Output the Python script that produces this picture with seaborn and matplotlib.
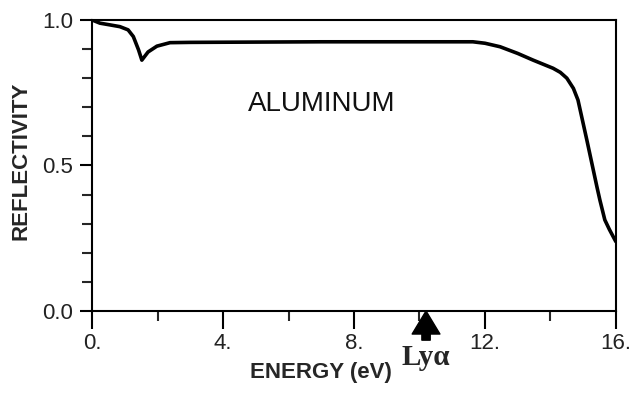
import matplotlib
matplotlib.use("Agg")
import matplotlib.pyplot as plt
import seaborn as sns
import pandas as pd

# Data
energy = [0.0, 0.24, 0.55, 0.85, 1.1, 1.26, 1.42, 1.52, 1.71, 1.98, 2.38, 3.0, 5.0, 7.0,
          9.0, 10.0, 11.0, 11.63, 12.0, 12.46, 13.0, 13.47, 14.08, 14.3, 14.5, 14.7, 14.84,
          15.11, 15.42, 15.51, 15.66, 15.8, 15.97, 16.0]
reflectivity = [1.0, 0.989, 0.983, 0.977, 0.966, 0.943, 0.897, 0.862, 0.89, 0.91, 0.922,
                0.923, 0.924, 0.925, 0.925, 0.925, 0.925, 0.925, 0.92, 0.908, 0.885, 0.862,
                0.834, 0.82, 0.80, 0.765, 0.725, 0.588, 0.426, 0.381, 0.313, 0.28, 0.244,
                0.238]
x_major = [0, 4, 8, 12, 16]
x_major_labels = ["0.", "4.", "8.", "12.", "16."]
x_minor = [2, 6, 10, 14]
y_major = [0.0, 0.5, 1.0]
y_major_labels = ["0.0", "0.5", "1.0"]
y_minor = [0.1, 0.2, 0.3, 0.4, 0.6, 0.7, 0.8, 0.9]
lya_energy = 10.2

sns.set_theme(style="ticks")
plt.rcParams['font.family'] = ['Liberation Sans', 'DejaVu Sans']

df = pd.DataFrame({"energy": energy, "reflectivity": reflectivity})

fig = plt.figure(figsize=(6.35, 3.93), dpi=100)
ax = fig.add_axes([0.145, 0.2087, 0.825, 0.7405])
sns.lineplot(data=df, x="energy", y="reflectivity", ax=ax, color="black", linewidth=2.6)

ax.set_xlim(0, 16)
ax.set_ylim(0, 1)
for s in ax.spines.values():
    s.set_linewidth(1.5)
    s.set_color("black")
    s.set_visible(True)

ax.set_xticks(x_major)
ax.set_xticklabels(x_major_labels)
ax.set_xticks(x_minor, minor=True)
ax.set_yticks(y_major)
ax.set_yticklabels(y_major_labels)
ax.set_yticks(y_minor, minor=True)
ax.tick_params(axis="x", which="major", direction="out", length=13, width=1.5,
               labelsize=16, pad=3, colors="black", labelcolor="#222222")
ax.tick_params(axis="x", which="minor", direction="out", length=7.2, width=1.5)
ax.tick_params(axis="y", which="major", direction="out", length=8.5, width=1.5,
               labelsize=16, pad=5, colors="black", labelcolor="#222222")
ax.tick_params(axis="y", which="minor", direction="out", length=7.2, width=1.5)

ax.set_xlabel("ENERGY (eV)", fontsize=16, fontweight="bold")
ax.set_ylabel("REFLECTIVITY", fontsize=16, fontweight="bold")
ax.xaxis.set_label_coords(0.436, -0.175)
ax.yaxis.set_label_coords(-0.116, 0.515)

ax.text(7.0, 0.71, "ALUMINUM", fontsize=20, ha="center", va="center", color="#111111")

ax.annotate("", xy=(lya_energy, 0.0), xytext=(0, -21), textcoords="offset points",
            xycoords="data", annotation_clip=False,
            arrowprops=dict(arrowstyle="simple,head_length=0.83,head_width=1.0,tail_width=0.3",
                            mutation_scale=20, color="black", shrinkA=0, shrinkB=0))
ax.annotate("Lyα", xy=(lya_energy, 0.0), xytext=(0, -39), textcoords="offset points",
            ha="center", va="baseline", fontsize=21, fontweight="bold",
            family=["Liberation Serif", "DejaVu Serif"], annotation_clip=False)

fig.savefig("out.png", dpi=100)
